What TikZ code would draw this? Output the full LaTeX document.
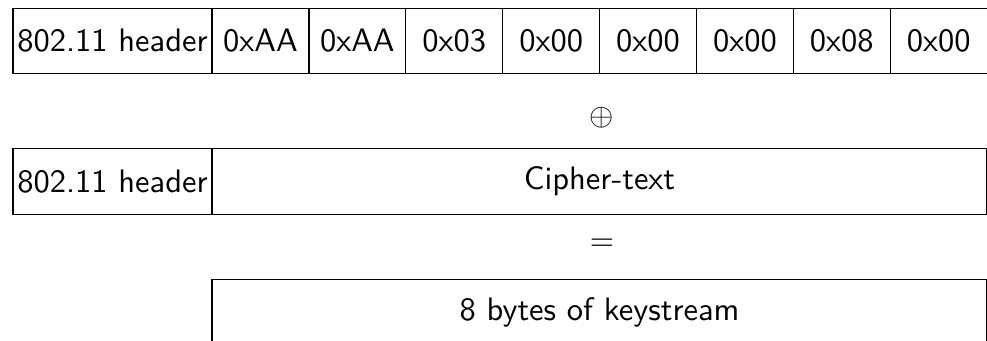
\documentclass[tikz,border=0pt]{standalone}
\usetikzlibrary{positioning}
\begin{document}
\begin{tikzpicture}[x=0.32pt,y=-0.32pt,font=\sffamily\fontsize{10.4}{12}\selectfont,
    cell/.style={draw,inner sep=0pt,outer sep=0pt,minimum height=21pt},
    hdrcell/.style={cell,minimum width=63.7pt},
    bytecell/.style={cell,minimum width=31pt},
    widecell/.style={cell,minimum width=248pt}]
\useasboundingbox (0,0) rectangle (987,340);
        % plaintext guess
        \node[hdrcell] (hdrA) at (112.5,41) {802.11 header};
        \foreach \v [count=\i] in {AA,AA,03,00,00,00,08,00}
            \node[bytecell] (byte\i) at ({212+96.9*(\i-0.5)},41) {0x\v};
        \node (xor) at (602,118) {$\oplus$};
        % captured frame
        \node[hdrcell] (hdrB) at (112.5,181.5) {802.11 header};
        \node[widecell,right=0pt of hdrB] (cipher) {Cipher-text};
        \node (eq) at (602,245) {$=$};
        \node[widecell] (keystream) at (599.5,312) {8 bytes of keystream};
    \end{tikzpicture}
\end{document}
